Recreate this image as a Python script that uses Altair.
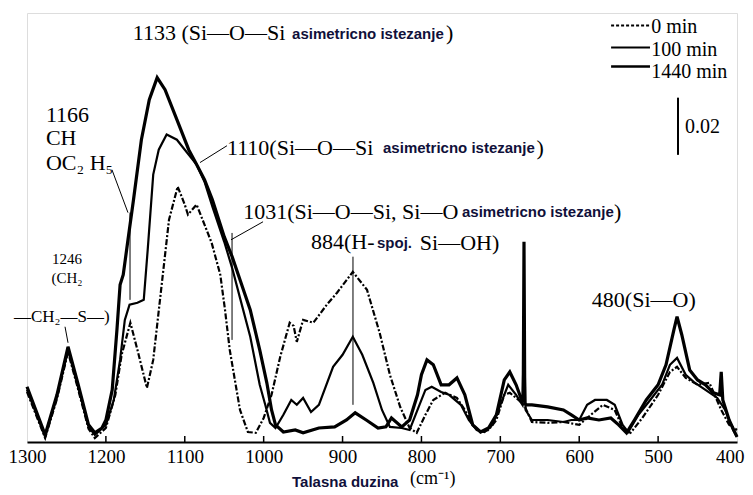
import altair as alt
import pandas as pd

# ---------------- spectra (wavenumber cm-1, absorbance in 1e-3 units) ----------------
W_1440 = [1300, 1277, 1262, 1248, 1235, 1222, 1214, 1205, 1200, 1192, 1186, 1182, 1178, 1172, 1165,
          1155, 1145, 1135, 1125, 1110, 1095, 1085, 1075, 1065, 1050, 1040, 1030, 1017, 1005, 996,
          990, 985, 975, 960, 950, 930, 910, 895, 884, 870, 855, 845, 838, 825, 815,
          805, 800, 793, 785, 775, 765, 755, 745, 735, 725, 715, 705, 695, 688, 680,
          673, 671, 670, 669, 667, 660, 640, 620, 610, 600, 590, 575, 560, 550, 540,
          530, 515, 500, 490, 480, 476, 470, 460, 450, 440, 430, 422, 420, 418, 410, 400]
A_1440 = [19.3, 2.5, 16.5, 33.3, 20.0, 6.0, 3.2, 4.9, 7.7, 18.2, 39.2, 55.0, 58.5, 70.7, 84.7,
          105.7, 119.7, 127.4, 123.2, 112.7, 102.2, 97.0, 91.7, 84.7, 71.8, 64.8, 56.7, 46.2, 32.2, 20.7,
          11.2, 6.0, 3.5, 4.2, 3.2, 4.9, 5.3, 7.7, 10.2, 7.7, 4.9, 5.3, 8.4, 5.3, 7.7,
          16.5, 23.5, 28.7, 27.0, 20.0, 20.0, 22.4, 16.5, 6.0, 3.5, 4.9, 9.5, 21.7, 24.5, 20.0,
          14.7, 14.5, 70.0, 13.5, 13.0, 13.0, 12.3, 11.2, 9.5, 7.7, 8.4, 7.7, 8.4, 6.0, 3.2,
          7.7, 14.7, 20.0, 27.0, 39.2, 43.8, 37.5, 25.2, 21.7, 20.0, 17.2, 16.5, 24.5, 14.7, 7.7, 1.8]

W_100 = [1300, 1277, 1262, 1248, 1235, 1222, 1214, 1200, 1190, 1182, 1176, 1170, 1160, 1152, 1147,
         1140, 1133, 1123, 1110, 1100, 1085, 1075, 1065, 1050, 1040, 1030, 1017, 1005, 998, 992,
         985, 975, 965, 958, 950, 940, 930, 912, 900, 887, 875, 861, 850, 840, 825,
         815, 805, 795, 787, 775, 765, 750, 740, 730, 720, 710, 700, 690, 680, 672,
         670, 668, 660, 640, 620, 610, 600, 590, 580, 565, 555, 545, 538, 525, 510,
         495, 485, 476, 465, 455, 440, 425, 415, 405, 400]
A_100 = [18.2, 1.8, 15.8, 32.2, 18.9, 5.3, 2.5, 6.0, 14.7, 28.7, 42.7, 48.0, 48.7, 49.7, 67.2,
         93.5, 102.2, 107.5, 105.7, 102.2, 97.0, 91.0, 82.3, 70.0, 60.9, 50.4, 36.8, 20.0, 13.0, 6.7,
         4.9, 9.5, 14.7, 13.0, 15.4, 10.5, 13.0, 26.3, 30.5, 36.8, 30.5, 20.7, 11.2, 5.3, 4.9,
         4.2, 11.2, 18.2, 19.3, 17.5, 16.5, 13.0, 7.7, 4.2, 3.5, 6.0, 13.0, 20.0, 16.5, 13.0,
         38.2, 11.2, 7.7, 7.7, 7.0, 7.7, 7.7, 13.0, 14.7, 14.7, 13.0, 6.0, 3.5, 9.5, 14.7,
         20.0, 27.0, 29.4, 23.5, 21.0, 18.2, 15.4, 11.2, 4.2, 1.8]

W_0 = [1300, 1277, 1262, 1248, 1235, 1222, 1214, 1200, 1188, 1180, 1169, 1160, 1148, 1140, 1130,
       1120, 1109, 1100, 1096, 1085, 1075, 1066, 1055, 1049, 1043, 1030, 1020, 1010, 1000, 990,
       979, 967, 962, 958, 950, 937, 920, 907, 887, 869, 853, 840, 827, 815, 806,
       795, 785, 770, 755, 745, 735, 725, 715, 705, 695, 688, 680, 670, 660, 640,
       620, 600, 590, 570, 555, 545, 535, 520, 500, 485, 476, 465, 450, 435, 420,
       410, 400]
A_0 = [17.5, 1.4, 15.1, 31.5, 18.2, 4.6, 1.4, 4.9, 16.5, 30.5, 41.7, 32.2, 18.9, 28.7, 53.2,
       77.7, 89.3, 83.0, 79.5, 83.0, 76.0, 69.7, 58.5, 46.2, 32.2, 11.2, 3.5, 3.2, 8.4, 16.5,
       29.8, 41.7, 40.6, 35.0, 42.7, 41.7, 48.0, 52.2, 59.5, 53.2, 38.2, 23.5, 12.3, 4.9, 3.2,
       9.5, 14.7, 17.2, 15.4, 11.2, 6.0, 3.5, 4.2, 7.7, 16.5, 17.2, 15.4, 13.0, 7.0, 6.7,
       7.0, 6.0, 8.4, 13.0, 11.2, 4.9, 3.2, 8.4, 16.5, 24.5, 26.3, 22.4, 20.0, 20.7, 11.2,
       6.0, 4.2]

TICKS = [1300, 1200, 1100, 1000, 900, 800, 700, 600, 500, 400]
INNER_TICKS = [1200, 1100, 1000, 900, 800, 700, 600, 500]

# ---------------- annotations (wavenumber, absorbance) ----------------
SERIF_TXT = ["1133 (Si\u2014O\u2014Si", ")", "1110(Si\u2014O\u2014Si", ")",
             "1031(Si\u2014O\u2014Si, Si\u2014O", ")", "884(H-", "Si\u2014OH)",
             "1166", "CH", "OC\u2082 H\u2085", "480(Si\u2014O)"]
SERIF_W = [1166, 769, 1046.5, 654, 1026, 556, 940, 802, 1276, 1276, 1276, 584]
SERIF_A = [143.0, 143.0, 102.9, 102.9, 80.5, 80.5, 70.0, 69.6, 114.5, 106.4, 97.7, 49.7]

SANS_TXT = ["asimetricno istezanje", "asimetricno istezanje", "asimetricno istezanje", "spoj."]
SANS_W = [964, 848.7, 748.6, 856.3]
SANS_A = [142.7, 102.9, 80.5, 69.6]

SMALL_TXT = ["1246", "(CH\u2082"]
SMALL_W = [1249.3, 1249.3]
SMALL_A = [64.0, 57.3]

CH2S_TXT = ["\u2014CH\u2082\u2014S\u2014)"]
CH2S_W = [1316.5]
CH2S_A = [43.8]

LEG_TXT = ["0 min", "100 min", "1440 min", "0.02"]
LEG_W = [508.8, 508.8, 508.8, 466]
LEG_A = [145.2, 137.2, 129.5, 110.3]

# leader lines (w1, a1, w2, a2)
LEAD_W1 = [1080.7, 1041.4, 1040.1, 886.8, 1192.3, 1169.4, 1251.8]
LEAD_A1 = [97.7, 70.7, 73.1, 64.8, 95.2, 80.2, 40.3]
LEAD_W2 = [1046.5, 1000.8, 1040.1, 886.8, 1172.0, 1169.4, 1248.0]
LEAD_A2 = [103.6, 77.0, 35.7, 13.0, 80.2, 49.7, 34.7]

SERIF = "Liberation Serif"
SANS = "Liberation Sans"

assert len(W_1440) == len(A_1440) and len(W_100) == len(A_100) and len(W_0) == len(A_0)

W, H = 710, 429
xscale = alt.Scale(domain=[1300, 400], nice=False, zero=False)
yscale = alt.Scale(domain=[0, 150], nice=False, zero=False)
xaxis = alt.Axis(values=TICKS, format="d", title=None, ticks=False, grid=False, labelFont=SERIF,
                 labelFontSize=19, labelColor="black", labelPadding=5, domainColor="black",
                 domainWidth=2, labelFlush=False, labelOverlap=False,
                 labelAlign={"condition": {"test": "datum.value === 400", "value": "right"}, "value": "center"},
                 labelOffset={"condition": {"test": "datum.value === 400", "value": 7}, "value": 0})


def X(field="w"):
    return alt.X(f"{field}:Q", scale=xscale, axis=xaxis)


def Y(field="a"):
    return alt.Y(f"{field}:Q", scale=yscale, axis=None)


def series(ws, as_):
    return pd.DataFrame({"w": ws, "a": as_})


l1440 = alt.Chart(series(W_1440, A_1440)).mark_line(color="black", strokeWidth=3.2).encode(x=X(), y=Y())
l100 = alt.Chart(series(W_100, A_100)).mark_line(color="black", strokeWidth=2.2).encode(x=X(), y=Y())
l0 = alt.Chart(series(W_0, A_0)).mark_line(color="black", strokeWidth=2.2, strokeDash=[6, 2, 2, 2]).encode(x=X(), y=Y())

ticks = alt.Chart(pd.DataFrame({"w": INNER_TICKS})).mark_rule(color="black", strokeWidth=1.5).encode(
    x=X(), y=alt.value(H), y2=alt.value(H - 6))


def texts(txt, ws, as_, font, size, weight="normal", align="left", color="black"):
    df = pd.DataFrame({"t": txt, "w": ws, "a": as_})
    return alt.Chart(df).mark_text(font=font, fontSize=size, fontWeight=weight, align=align,
                                   baseline="middle", color=color).encode(x=X(), y=Y(), text="t:N")


t_serif = texts(SERIF_TXT, SERIF_W, SERIF_A, SERIF, 22)
t_sans = texts(SANS_TXT, SANS_W, SANS_A, SANS, 15, weight="bold", color="#10103a")
t_small = texts(SMALL_TXT, SMALL_W, SMALL_A, SERIF, 15, align="center")
t_ch2s = texts(CH2S_TXT, CH2S_W, CH2S_A, SERIF, 17)
t_leg = texts(LEG_TXT, LEG_W, LEG_A, SERIF, 20)

leads = alt.Chart(pd.DataFrame({"w": LEAD_W1, "a": LEAD_A1, "w2": LEAD_W2, "a2": LEAD_A2})).mark_rule(
    color="black", strokeWidth=1).encode(x=X(), y=Y(), x2="w2:Q", y2="a2:Q")

LEGL_W1 = [559.6, 559.6, 559.6]
LEGL_W2 = [510.3, 510.3, 510.3]
LEGL_A = [145.6, 137.9, 131.3]
leg_dash = alt.Chart(pd.DataFrame({"w": LEGL_W1[:1], "w2": LEGL_W2[:1], "a": LEGL_A[:1]})).mark_rule(
    color="black", strokeWidth=2, strokeDash=[3, 2]).encode(x=X(), x2="w2:Q", y=Y())
leg_100 = alt.Chart(pd.DataFrame({"w": LEGL_W1[1:2], "w2": LEGL_W2[1:2], "a": LEGL_A[1:2]})).mark_rule(
    color="black", strokeWidth=2).encode(x=X(), x2="w2:Q", y=Y())
leg_1440 = alt.Chart(pd.DataFrame({"w": LEGL_W1[2:], "w2": LEGL_W2[2:], "a": LEGL_A[2:]})).mark_rule(
    color="black", strokeWidth=2.5).encode(x=X(), x2="w2:Q", y=Y())

SCALEBAR_W = [474.8]
SCALEBAR_A1 = [120.4]
SCALEBAR_A2 = [100.4]
scalebar = alt.Chart(pd.DataFrame({"w": SCALEBAR_W, "a": SCALEBAR_A1, "a2": SCALEBAR_A2})).mark_rule(
    color="black", strokeWidth=2).encode(x=X(), y=Y(), y2="a2:Q")

TITLE_TXT = ["Talasna duzina", "(cm\u207b\u00b9)"]
TITLE_W = [964.1, 814.5]
title_sans = alt.Chart(pd.DataFrame({"t": TITLE_TXT[:1], "w": TITLE_W[:1]})).mark_text(
    font=SANS, fontSize=15, fontWeight="bold", align="left", baseline="middle", color="#10103a"
).encode(x=X(), y=alt.value(H + 40), text="t:N")
title_serif = alt.Chart(pd.DataFrame({"t": TITLE_TXT[1:], "w": TITLE_W[1:]})).mark_text(
    font=SERIF, fontSize=18, align="left", baseline="middle", color="black"
).encode(x=X(), y=alt.value(H + 37), text="t:N")

chart = alt.layer(
    l0, l100, l1440, ticks, leads, t_serif, t_sans, t_small, t_ch2s, t_leg,
    leg_dash, leg_100, leg_1440, scalebar, title_sans, title_serif
).properties(
    width=W, height=H,
    autosize=alt.AutoSizeParams(type="none"),
    padding={"left": 19, "top": 5, "right": 8, "bottom": 50},
).configure_view(stroke="black", strokeWidth=2).configure(background="white")

chart.save("out.html", embed_options={"renderer": "svg", "actions": False})
